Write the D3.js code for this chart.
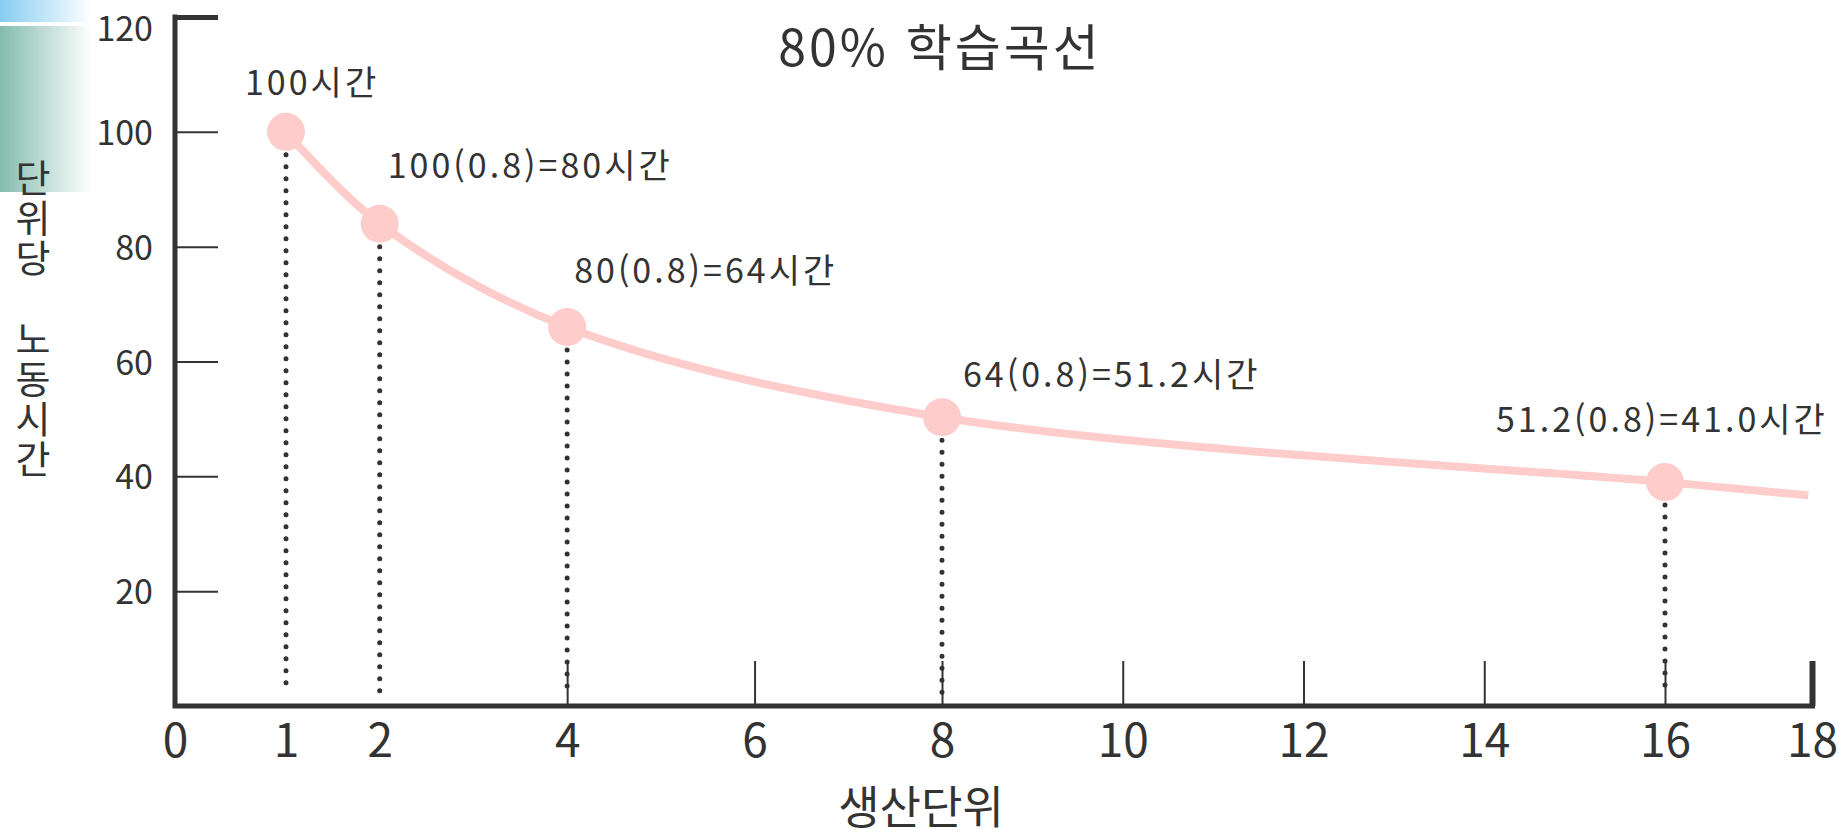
<!DOCTYPE html>
<html lang="ko">
<head>
<meta charset="utf-8">
<script src="https://cdn.jsdelivr.net/npm/d3@7"></script>
<style>
  html, body { margin: 0; padding: 0; background: #fff; }
  svg { display: block; font-family: "Noto Sans CJK KR", "Noto Sans", sans-serif; }
</style>
</head>
<body>
<svg id="chart" width="1843" height="837"></svg>
<script>
// values (point heights as they are drawn)
const units = [1, 2, 4, 8, 16];
const hours = [100, 84, 66, 50.3, 39];
const pointLabels = ['100시간', '100(0.8)=80시간', '80(0.8)=64시간', '64(0.8)=51.2시간', '51.2(0.8)=41.0시간'];
const curveTail = [17.95, 36.7];   // curve keeps going a bit after the last point
const xTicks = [0, 1, 2, 4, 6, 8, 10, 12, 14, 16, 18];
const yTicks = [20, 40, 60, 80, 100, 120];
const titleText = '80% 학습곡선';
const xTitle = '생산단위';
const yTitle = '단위당 노동시간';

const ink = '#333';
const pink = '#ffcccc';

const svg = d3.select('#chart');

// the axis in the picture is hand drawn, spacing is not quite even
const x = d3.scaleLinear()
  .domain([0, 1, 8, 16, 18])
  .range([175, 286, 942, 1665, 1812]);

const y = d3.scaleLinear()
  .domain([0, 120])
  .range([706, 17]);

// --- corner decoration (slide template leftovers)
const defs = svg.append('defs');
function fade(id, col) {
  let g = defs.append('linearGradient').attr('id', id)
    .attr('x1', 0).attr('x2', 1).attr('y1', 0).attr('y2', 0);
  g.append('stop').attr('offset', 0).attr('stop-color', col);
  g.append('stop').attr('offset', 1).attr('stop-color', '#fff');
}
fade('blueFade', '#86cdf1');
fade('tealFade', '#84bcae');
svg.append('rect').attr('x', 0).attr('y', 0).attr('width', 92).attr('height', 22).attr('fill', 'url(#blueFade)');
svg.append('rect').attr('x', 0).attr('y', 26).attr('width', 92).attr('height', 166).attr('fill', 'url(#tealFade)');

// --- y axis
const yAxis = svg.append('g')
  .attr('transform', `translate(${x(0)},0)`)
  .call(d3.axisLeft(y).tickValues(yTicks).tickSizeInner(-43).tickSizeOuter(0).tickPadding(22));
yAxis.attr('font-size', null).attr('font-family', null);
yAxis.select('.domain').remove();
yAxis.selectAll('.tick line')
  .attr('stroke', ink)
  .attr('stroke-width', d => d === 120 ? 5 : 2);
yAxis.selectAll('.tick text')
  .attr('font-size', 34)
  .attr('fill', ink)
  .attr('dy', d => d === 120 ? '0.7em' : '0.37em');   // top label sits a little under the cap

// --- x axis
const xAxis = svg.append('g')
  .attr('transform', `translate(0,${y(0)})`)
  .call(d3.axisBottom(x).tickValues(xTicks).tickSizeInner(-45).tickSizeOuter(0).tickPadding(18));
xAxis.attr('font-size', null).attr('font-family', null);
xAxis.select('.domain').remove();
xAxis.selectAll('.tick line')
  .attr('stroke', ink)
  .attr('stroke-width', d => d === 18 ? 6 : 2)
  .attr('display', d => d < 4 ? 'none' : null);
xAxis.selectAll('.tick text')
  .attr('font-size', 46)
  .attr('fill', ink);

// thick L frame
svg.append('path')
  .attr('d', `M${x(0)},${y(120) - 2.5}V${y(0)}H${x(18) + 3}`)
  .attr('fill', 'none')
  .attr('stroke', ink)
  .attr('stroke-width', 5);

// --- curve
const pts = units.map((u, i) => [u, hours[i]]);
const line = d3.line()
  .x(d => x(d[0]))
  .y(d => y(d[1]))
  .curve(d3.curveCatmullRom.alpha(0.5));

svg.append('path')
  .datum(pts.concat([curveTail]))
  .attr('d', line)
  .attr('fill', 'none')
  .attr('stroke', pink)
  .attr('stroke-width', 8);

const r = 19;

// dotted drops to the axis
svg.selectAll('line.drop')
  .data(pts)
  .enter()
  .append('line')
  .attr('class', 'drop')
  .attr('x1', d => x(d[0]))
  .attr('x2', d => x(d[0]))
  .attr('y1', d => y(d[1]) + r + 4)
  .attr('y2', y(0) - 12)
  .attr('stroke', ink)
  .attr('stroke-width', 5)
  .attr('stroke-linecap', 'round')
  .attr('stroke-dasharray', '0 12');

svg.selectAll('circle.pt')
  .data(pts)
  .enter()
  .append('circle')
  .attr('class', 'pt')
  .attr('cx', d => x(d[0]))
  .attr('cy', d => y(d[1]))
  .attr('r', r)
  .attr('fill', pink);

// labels next to each point (nudges picked by eye)
const nudge = [[-41, -37], [8, -46], [7, -44], [21, -30], [-169, -50]];
svg.selectAll('text.lab')
  .data(pts)
  .enter()
  .append('text')
  .attr('class', 'lab')
  .attr('x', (d, i) => x(d[0]) + nudge[i][0])
  .attr('y', (d, i) => y(d[1]) + nudge[i][1])
  .attr('font-size', 34)
  .attr('letter-spacing', 3)
  .attr('fill', ink)
  .text((d, i) => pointLabels[i]);

// --- titles
svg.append('text')
  .attr('x', 940)
  .attr('y', 66)
  .attr('text-anchor', 'middle')
  .attr('font-size', 50)
  .attr('letter-spacing', 3)
  .attr('fill', ink)
  .text(titleText);

svg.append('text')
  .attr('x', 921)
  .attr('y', 824)
  .attr('text-anchor', 'middle')
  .attr('font-size', 45)
  .attr('fill', ink)
  .text(xTitle);

// vertical title, one syllable under the other
svg.append('text')
  .attr('x', 33)
  .attr('y', 159)
  .style('writing-mode', 'vertical-rl')
  .attr('font-size', 38)
  .attr('letter-spacing', 2)
  .attr('word-spacing', 28)
  .attr('fill', ink)
  .text(yTitle);
</script>
</body>
</html>
